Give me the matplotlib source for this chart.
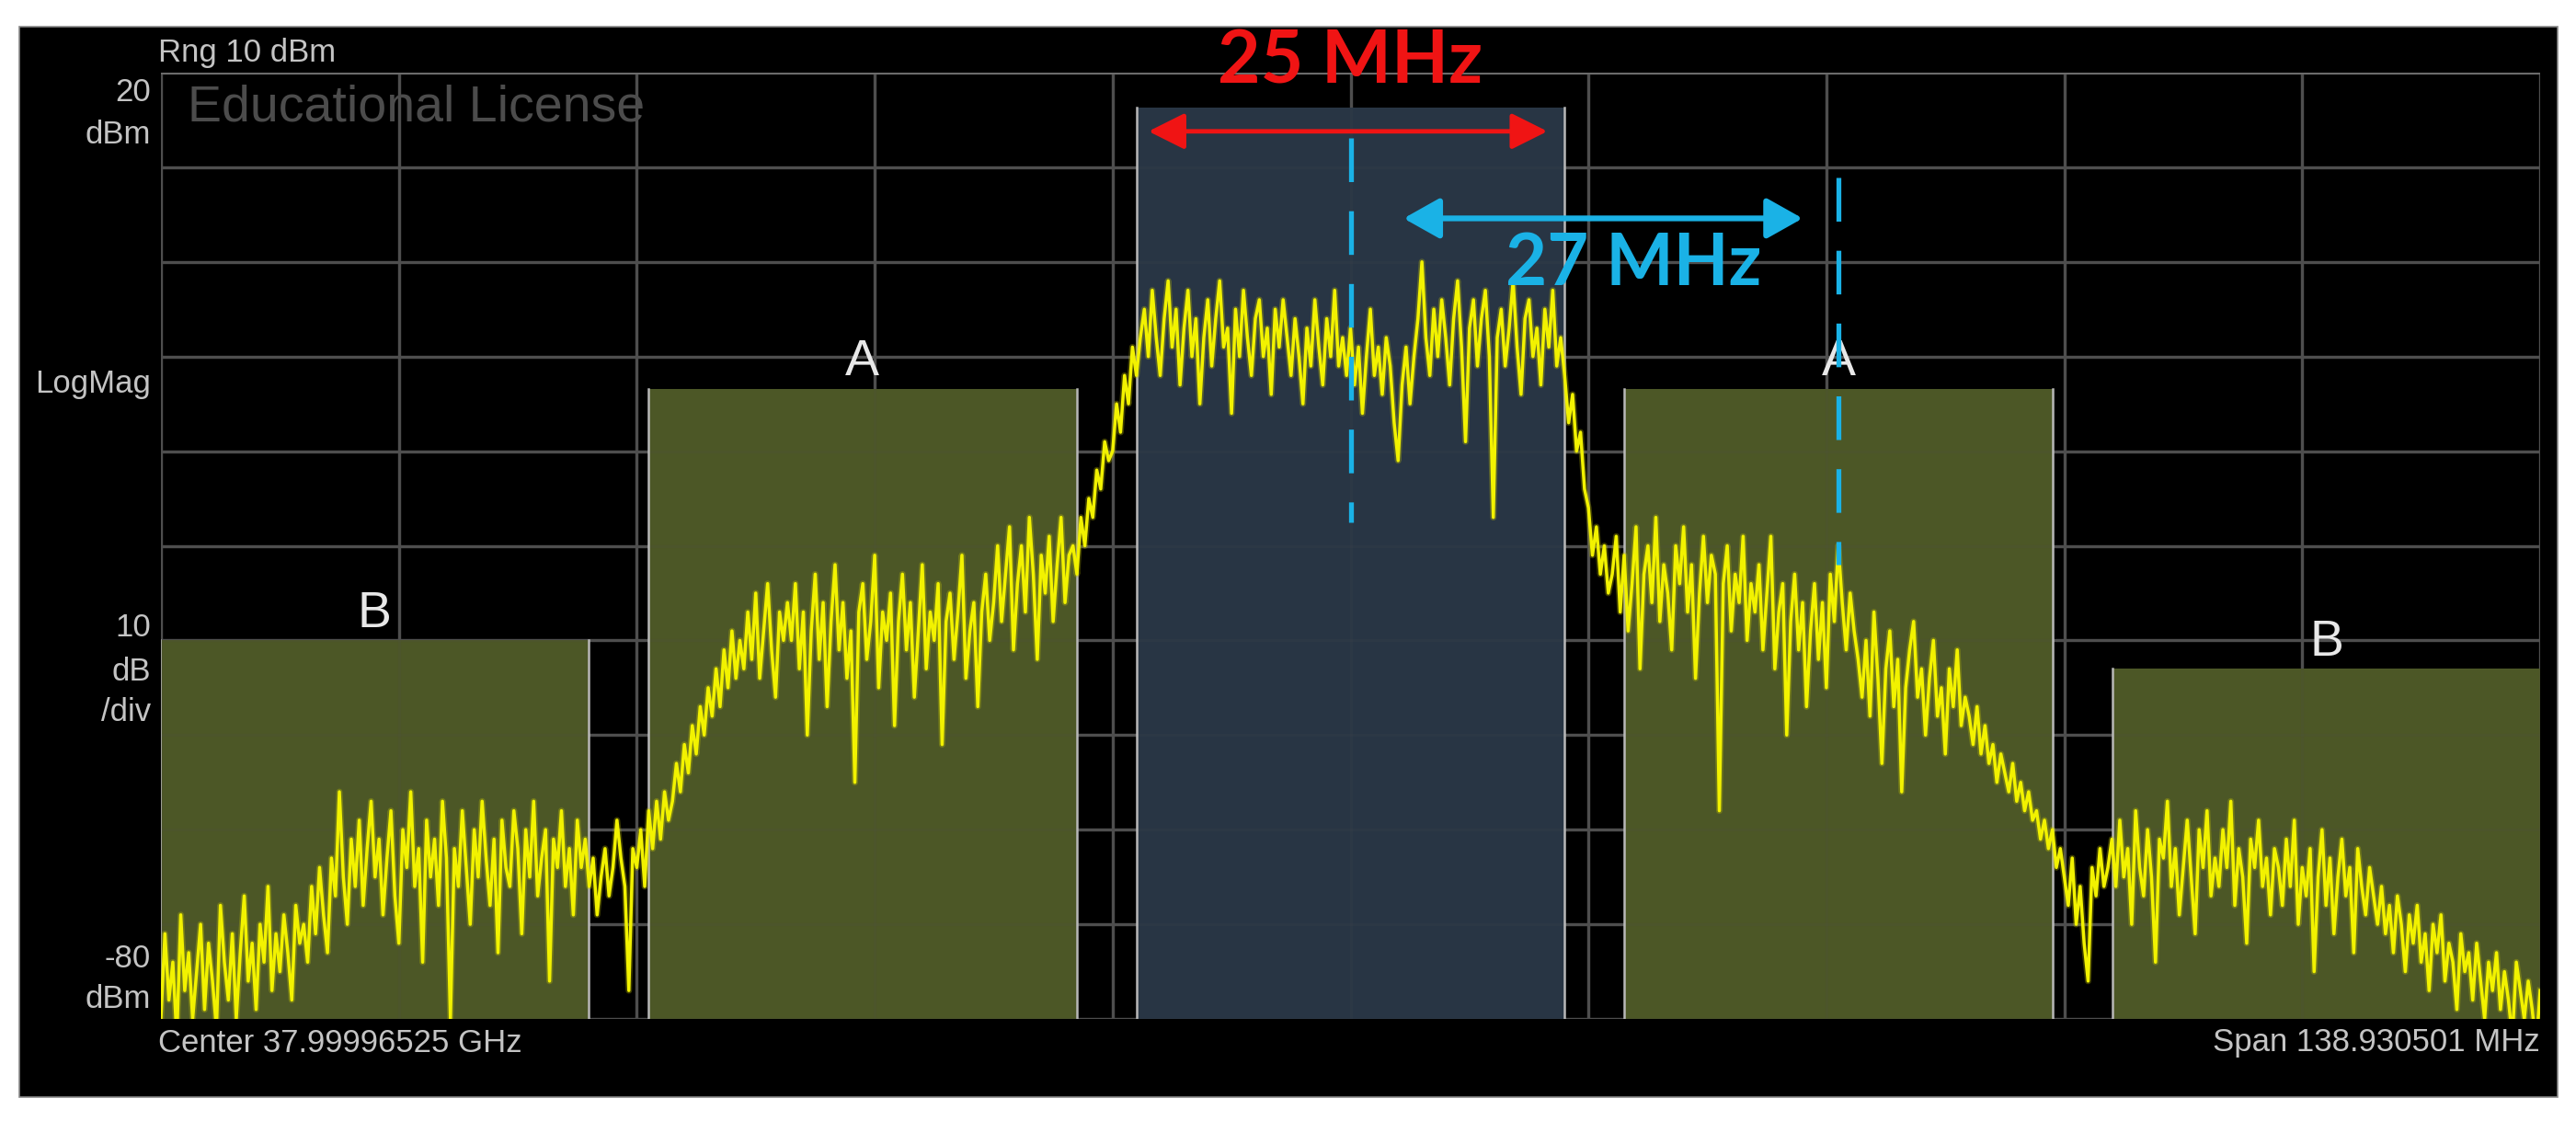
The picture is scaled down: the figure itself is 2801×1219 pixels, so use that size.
import numpy as np
import matplotlib
matplotlib.use("Agg")
import matplotlib.pyplot as plt
from matplotlib.patches import Rectangle

# instrument settings
span_mhz = 138.930501
ref_top = 20
ref_bottom = -80

# channel boxes (MHz offset from center)
box_centers = [-57.0, -28.5, 0.0, 28.5, 57.0]
box_width = 25.0
box_tops = [-40.0, -13.4, 16.3, -13.4, -43.0]
box_labels = ["B", "A", "", "A", "B"]

# trace (dBm), 601 sweep points split by 2 divisions
trace_b_left = [-80, -71, -78, -74, -82, -69, -77, -73, -80, -75, -70, -79, -72, -76, -81, -68,
                -74, -78, -71, -80, -73, -67, -76, -72, -79, -70, -74, -66, -77, -71, -75, -69,
                -73, -78, -68, -72,
                -70, -74, -66, -71, -64, -69, -73, -63, -67, -56, -65, -70, -61, -66, -59, -68,
                -62,
                -57, -65, -61, -69, -63, -58, -67, -72, -60, -64, -56, -66, -62, -74, -59, -65,
                -61, -68, -57, -63, -80, -62, -66, -58, -64, -70, -60, -65, -57, -63, -68, -61,
                -73, -59, -64, -66, -58, -62, -71, -60, -65, -57, -67, -63, -60, -76, -61, -64,
                -58, -66, -62, -69, -59, -64, -61,
                -66, -63, -69, -65, -62, -67, -64, -59, -63, -66, -77, -62]
trace_a_left = [-64, -60, -66, -58, -62, -57, -61, -56, -59,
                -57, -53, -56, -51, -54, -49, -52, -47, -50, -45, -48, -43, -47, -41, -45, -39,
                -44, -40,
                -43, -37, -42, -35, -44, -39, -34, -41, -46, -37, -40, -36,
                -40, -34, -43, -37, -50, -39, -33, -42, -36, -47, -38, -32, -41, -36, -44, -39,
                -55, -37, -34, -42, -38, -31, -45, -37, -40, -35, -49, -38, -33, -41, -36, -46,
                -39, -32, -43, -37, -40, -34, -51, -38, -35, -42, -37, -31, -44, -39, -36, -47,
                -37, -33, -40,
                -36, -30, -38, -33, -28, -41, -34, -30, -37, -27, -33, -42, -31, -35, -29, -38,
                -32, -27, -36, -31, -30,
                -33, -27, -30, -25, -27, -22, -24, -19, -21]
trace_main = [-20, -15, -18, -12, -15, -9, -12, -8,
              -5, -10, -3, -8, -12, -6, -2, -9, -5, -13, -7, -3, -10, -6, -15, -8, -4, -11,
              -6, -2, -9, -7, -16, -5, -10, -3, -8, -12, -6, -4, -10, -7, -14, -5, -9, -4,
              -8, -12, -6, -10, -15, -7, -11, -4, -9, -13, -6, -10, -3, -11, -8, -12,
              -7, -13, -9, -16, -10, -5, -12, -9, -14, -8, -11, -17, -21, -13, -9, -15, -10,
              -6, 0, -8, -12,
              -5, -10, -4, -8, -13, -6, -2, -9, -19, -7, -4, -11, -6, -3, -10, -27, -8, -5,
              -11, -7, -2, -9, -14, -6, -4, -10, -7, -13, -5, -9, -3, -11, -8,
              -12, -17, -14, -20, -18, -24]
trace_a_right = [-26, -31, -28, -33, -30, -35,
                 -33, -29, -37, -31, -39, -34, -28, -43, -33, -30, -36, -27, -38, -32, -35, -41,
                 -30, -34, -28, -37, -32, -44, -35, -29, -36, -31, -33, -58, -34, -30, -39, -33,
                 -36, -29, -40, -34,
                 -37, -32, -41, -35, -29, -43, -37, -34, -50, -38, -33, -41, -36, -47, -39, -34,
                 -42, -36, -45, -33, -38, -30, -36, -41, -35, -39,
                 -42, -46, -40, -48, -37, -44, -53, -43, -39, -47, -42, -56, -45, -41, -38, -46,
                 -43, -50, -44, -40, -48, -45, -52, -43, -47, -41, -49, -46,
                 -48, -51, -47, -52, -49, -53, -51, -55, -52, -54, -56, -53, -57, -55, -58, -56,
                 -59, -58, -61, -59, -62, -60, -64, -62]
trace_b_right = [-65, -68, -63, -70, -66, -72, -76, -64, -67, -62, -66, -64,
                 -61, -66, -59, -65, -62, -70, -58, -64, -67, -60, -65, -74, -61, -63, -57, -66,
                 -62, -69, -64, -59, -65, -71, -60, -64, -58, -67, -63, -66, -60, -64, -57, -68,
                 -62, -65, -72, -61, -64, -59, -66, -63, -69, -62,
                 -64, -68, -61, -66, -59, -70, -64, -67, -62, -75, -65, -60, -68, -63, -71, -65,
                 -61, -67, -64, -73, -62, -66, -69, -64, -67, -70,
                 -66, -71, -68, -73, -67, -70, -75, -69, -72, -68, -74, -71, -77, -70, -73, -69,
                 -76, -72, -74, -79, -71, -75, -73, -78, -72, -76, -80, -74, -77, -73, -79, -75,
                 -78, -82, -74, -77, -80, -76, -79, -83, -77]

# annotations
red_arrow = (-11.8, 11.5, 13.8)
blue_arrow = (3.1, 26.4, 4.6)
marker_lines = [(0.0, 13.1, -27.5), (28.5, 8.9, -32.0)]

trace = np.array(trace_b_left + trace_a_left + trace_main + trace_a_right + trace_b_right)
freq = np.linspace(-span_mhz / 2, span_mhz / 2, len(trace))

W, H = 2801, 1219
fig = plt.figure(figsize=(W / 100, H / 100), dpi=100, facecolor="white")

def fx(px):
    return px / W

def fy(py):
    return 1 - py / H

fig.patches.append(Rectangle((fx(21), fy(1193)), fx(2760), 1164 / H, transform=fig.transFigure,
                             fc="black", ec="#8a8a8a", lw=1.2, zorder=-5))

ax = fig.add_axes([fx(175), fy(1108), fx(2587), (1108 - 79) / H])
ax.set_facecolor("black")
ax.set_xlim(-span_mhz / 2, span_mhz / 2)
ax.set_ylim(ref_bottom, ref_top)
for s in ax.spines.values():
    s.set_visible(False)
ax.set_xticks([])
ax.set_yticks([])

gx = np.linspace(-span_mhz / 2, span_mhz / 2, 11)
gy = np.arange(ref_bottom, ref_top + 1, 10)
for z, a in [(0.5, 1.0), (1.5, 0.13)]:
    for x in gx:
        ax.axvline(x, color="#4e4e4e", lw=2.4, alpha=a, zorder=z)
    for y in gy:
        ax.axhline(y, color="#4e4e4e", lw=2.4, alpha=a, zorder=z)
ax.axhline(ref_top, color="#6e6e6e", lw=2.6, zorder=1.6)

for c, top, lab in zip(box_centers, box_tops, box_labels):
    fc = "#283544" if lab == "" else "#4c5726"
    ax.add_patch(Rectangle((c - box_width / 2, ref_bottom), box_width, top - ref_bottom,
                           fc=fc, ec="none", zorder=1))
    for ex in (c - box_width / 2, c + box_width / 2):
        ax.plot([ex, ex], [ref_bottom, top], color="#b8b8b8", lw=1.8, zorder=1.7)
    if lab:
        ax.text(c, top + 1.4, lab, ha="center", va="baseline", fontsize=40,
                color="#e8e8e8", family="Liberation Sans", zorder=5)

ax.plot(freq, trace, color="#c8c800", lw=5.0, alpha=0.3, zorder=3)
ax.plot(freq, trace, color="#f2f200", lw=2.5, zorder=3.1)

blue = "#1ab2e6"
for x, y0, y1 in marker_lines:
    ax.plot([x, x], [y0, y1], color=blue, lw=3.8, dashes=(9, 6), zorder=6)

ax.annotate("", xy=(red_arrow[1], red_arrow[2]), xytext=(red_arrow[0], red_arrow[2]),
            arrowprops=dict(arrowstyle="<|-|>,head_length=0.8,head_width=0.4", color="#f01414",
                            lw=3.5, mutation_scale=30, shrinkA=0, shrinkB=0), zorder=7)
ax.annotate("", xy=(blue_arrow[1], blue_arrow[2]), xytext=(blue_arrow[0], blue_arrow[2]),
            arrowprops=dict(arrowstyle="<|-|>,head_length=0.8,head_width=0.45", color=blue,
                            lw=4.5, mutation_scale=30, shrinkA=0, shrinkB=0), zorder=7)
ax.text(0.0, 21.1, "25 MHz", ha="center", va="center", fontsize=58, fontweight="bold",
        color="#f01414", family="Lato", zorder=8, clip_on=False)
ax.text(16.5, -0.3, "27 MHz", ha="center", va="center", fontsize=56, fontweight="bold",
        color=blue, family="Lato", zorder=8)

# screen annotations
gray = "#c4c4c4"
lab_kw = dict(fontsize=25, color=gray, family="Liberation Sans", ha="right", va="center")
for txt, py in [("20", 100), ("dBm", 147), ("LogMag", 417), ("10", 683), ("dB", 730),
                ("/div", 774), ("-80", 1043), ("dBm", 1086)]:
    fig.text(fx(164), fy(py), txt, **lab_kw)
fig.text(fx(172), fy(58), "Rng 10 dBm", fontsize=25, color=gray, family="Liberation Sans",
         ha="left", va="center")
fig.text(fx(204), fy(117), "Educational License", fontsize=40, color="#4c4c4c",
         family="Liberation Sans", ha="left", va="center")
fig.text(fx(172), fy(1134), "Center 37.99996525 GHz", fontsize=25, color=gray,
         family="Liberation Sans", ha="left", va="center")
fig.text(fx(2762), fy(1134), "Span 138.930501 MHz", fontsize=25, color=gray,
         family="Liberation Sans", ha="right", va="center")

fig.savefig("out.png", dpi=100, facecolor="white")
